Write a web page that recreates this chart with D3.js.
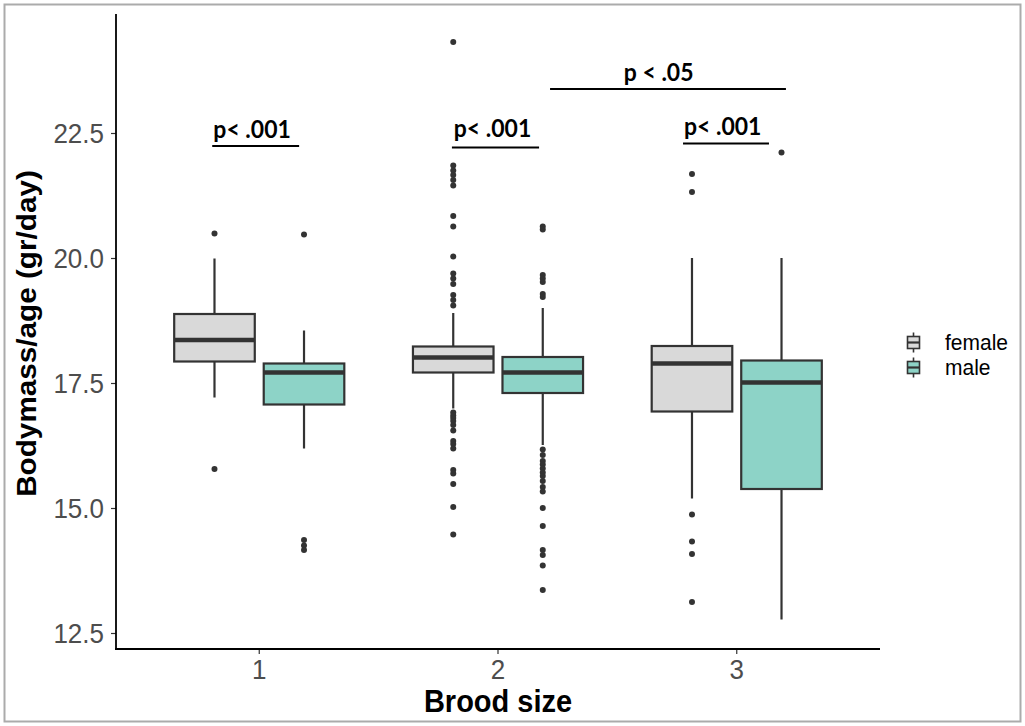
<!DOCTYPE html>
<html>
<head>
<meta charset="utf-8">
<script src="https://cdn.jsdelivr.net/npm/d3@7"></script>
<style>
  html, body { margin: 0; padding: 0; background: #ffffff; }
  svg { display: block; }
</style>
</head>
<body>
<svg id="chart" width="1025" height="726"></svg>
<script>
// Brood size categories and sexes
const broodSizes = ["1", "2", "3"];
const sexes = ["female", "male"];
const sexColors = ["#D9D9D9", "#8DD3C7"];

// Five-number summaries (lower whisker, Q1, median, Q3, upper whisker) per brood size
const femaleBoxes = [
  [17.21, 17.93, 18.36, 18.88, 19.99],
  [16.99, 17.71, 18.01, 18.23, 18.90],
  [15.19, 16.93, 17.89, 18.24, 20.00]
];
const maleBoxes = [
  [16.19, 17.07, 17.71, 17.89, 18.55],
  [16.26, 17.30, 17.71, 18.02, 19.00],
  [12.77, 15.38, 17.51, 17.95, 20.00]
];

// Outlying observations per brood size
const femaleOutliers = [
  [20.49, 15.78],
  [24.32, 21.85, 21.75, 21.66, 21.56, 21.45, 20.84, 20.63, 20.03, 19.69, 19.59, 19.48,
   19.26, 19.16, 19.05, 16.91, 16.85, 16.80, 16.74, 16.66, 16.55, 16.34, 16.28, 16.19,
   15.76, 15.69, 15.48, 15.02, 14.47],
  [21.68, 21.32, 14.87, 14.33, 14.08, 13.12]
];
const maleOutliers = [
  [20.47, 14.36, 14.25, 14.16],
  [20.63, 20.57, 19.66, 19.59, 19.52, 19.28, 19.22, 16.17, 16.06, 15.94, 15.87, 15.79,
   15.71, 15.64, 15.54, 15.42, 15.33, 15.00, 14.64, 14.16, 14.06, 13.85, 13.36],
  [22.11]
];

// Y axis ticks
const yTicks = [12.5, 15.0, 17.5, 20.0, 22.5];

// Significance annotations: labels, bracket span (in category units) and heights (data units)
const pLabels = ["p< .001", "p< .001", "p< .001", "p < .05"];
const pLabelX = [0.97, 1.977, 2.941, 2.673];
const pLabelY = [22.41, 22.43, 22.46, 23.54];
const pLineFrom = [0.803, 1.807, 2.775, 2.218];
const pLineTo = [1.167, 2.172, 3.135, 3.206];
const pLineY = [22.24, 22.21, 22.29, 23.38];

const svg = d3.select("#chart");
const stretch = 1.08;

const panel = { left: 116, right: 880, top: 14, bottom: 649 };

// Scales
const x = d3.scaleBand().domain(broodSizes)
  .range([panel.left, panel.right]).paddingInner(0).paddingOuter(0.1);
const dodge = x.step() * 0.75;
const xSex = d3.scaleBand().domain(sexes).range([0, dodge]).padding(0);
const boxW = xSex.bandwidth() * 0.9;
const catCenter = c => x(c) + x.bandwidth() / 2;
const xCont = d3.scaleLinear().domain([1, 2]).range([catCenter("1"), catCenter("2")]);
const y = d3.scaleLinear().domain([12.18, 24.88]).range([panel.bottom, panel.top]);

// Border around the figure
svg.append("rect")
  .attr("x", 4.5).attr("y", 4.5).attr("width", 1016).attr("height", 717)
  .attr("fill", "none").attr("stroke", "#ABABAB").attr("stroke-width", 2);

// Text helper with a slight vertical stretch
function stretchedText(g, tx, ty, rot) {
  return g.append("text")
    .attr("transform", `translate(${tx},${ty}) scale(1,${stretch})` + (rot ? ` rotate(${rot})` : ""));
}

// Boxplots
const ink = "#333333";
const lw = 2.2;
const groups = [
  { sex: "female", boxes: femaleBoxes, outliers: femaleOutliers, color: sexColors[0] },
  { sex: "male", boxes: maleBoxes, outliers: maleOutliers, color: sexColors[1] }
];
const plot = svg.append("g");
groups.forEach(gr => {
  broodSizes.forEach((b, i) => {
    const [lo, q1, med, q3, hi] = gr.boxes[i];
    const cx = x(b) + x.bandwidth() / 2 - dodge / 2 + xSex(gr.sex) + xSex.bandwidth() / 2;
    const g = plot.append("g");
    g.append("line").attr("x1", cx).attr("x2", cx).attr("y1", y(hi)).attr("y2", y(q3))
      .attr("stroke", ink).attr("stroke-width", lw);
    g.append("line").attr("x1", cx).attr("x2", cx).attr("y1", y(q1)).attr("y2", y(lo))
      .attr("stroke", ink).attr("stroke-width", lw);
    g.append("rect").attr("x", cx - boxW / 2).attr("y", y(q3))
      .attr("width", boxW).attr("height", y(q1) - y(q3))
      .attr("fill", gr.color).attr("stroke", ink).attr("stroke-width", lw);
    g.append("line").attr("x1", cx - boxW / 2).attr("x2", cx + boxW / 2)
      .attr("y1", y(med)).attr("y2", y(med))
      .attr("stroke", ink).attr("stroke-width", 4.6);
    g.selectAll("circle").data(gr.outliers[i]).join("circle")
      .attr("cx", cx).attr("cy", d => y(d)).attr("r", 3).attr("fill", ink);
  });
});

// Axes
const tickInk = "#333333";
const labelInk = "#4D4D4D";
const yAxis = svg.append("g").attr("transform", `translate(${panel.left},0)`)
  .call(d3.axisLeft(y).tickValues(yTicks).tickSize(5).tickPadding(7).tickFormat(d3.format(".1f")));
yAxis.select(".domain").remove();
yAxis.selectAll(".tick line").attr("stroke", tickInk).attr("stroke-width", 1.2);
yAxis.selectAll(".tick text").remove();
yAxis.selectAll(".tick").each(function (d) {
  stretchedText(d3.select(this), -12, 9.5)
    .attr("text-anchor", "end")
    .attr("font-family", "'Liberation Sans', Arial, sans-serif")
    .attr("font-size", 26).attr("fill", labelInk)
    .text(d3.format(".1f")(d));
});

const xAxis = svg.append("g").attr("transform", `translate(0,${panel.bottom})`)
  .call(d3.axisBottom(x).tickSize(5).tickPadding(6));
xAxis.select(".domain").remove();
xAxis.selectAll(".tick line").attr("stroke", tickInk).attr("stroke-width", 1.2);
xAxis.selectAll(".tick text").remove();
xAxis.selectAll(".tick").each(function (d) {
  stretchedText(d3.select(this), 0, 30)
    .attr("text-anchor", "middle")
    .attr("font-family", "'Liberation Sans', Arial, sans-serif")
    .attr("font-size", 26).attr("fill", labelInk)
    .text(d);
});

// Axis lines
svg.append("line").attr("x1", panel.left).attr("x2", panel.left)
  .attr("y1", panel.top).attr("y2", panel.bottom + 0.9)
  .attr("stroke", "#000").attr("stroke-width", 1.8);
svg.append("line").attr("x1", panel.left - 0.9).attr("x2", panel.right)
  .attr("y1", panel.bottom).attr("y2", panel.bottom)
  .attr("stroke", "#000").attr("stroke-width", 1.8);

// Axis titles
stretchedText(svg, (panel.left + panel.right) / 2, 712)
  .attr("text-anchor", "middle")
  .attr("font-family", "'Liberation Sans', Arial, sans-serif")
  .attr("font-weight", "bold").attr("font-size", 29).attr("fill", "#000")
  .text("Brood size");
stretchedText(svg, 36, (panel.top + panel.bottom) / 2 + 2, -90)
  .attr("text-anchor", "middle")
  .attr("font-family", "'Liberation Sans', Arial, sans-serif")
  .attr("font-weight", "bold").attr("font-size", 27.5).attr("fill", "#000")
  .text("Bodymass/age (gr/day)");

// Significance annotations
const ann = svg.append("g");
pLabels.forEach((lab, i) => {
  ann.append("line")
    .attr("x1", xCont(pLineFrom[i])).attr("x2", xCont(pLineTo[i]))
    .attr("y1", y(pLineY[i])).attr("y2", y(pLineY[i]))
    .attr("stroke", "#000").attr("stroke-width", 1.8);
  stretchedText(ann, xCont(pLabelX[i]), y(pLabelY[i]))
    .attr("text-anchor", "middle")
    .attr("font-family", "Lato, 'Open Sans', sans-serif")
    .attr("font-weight", "bold").attr("font-size", 23).attr("fill", "#000")
    .text(lab);
});

// Legend
const legend = svg.append("g").attr("transform", "translate(907,332)");
const keyH = 21;
const keyGap = 4;
sexes.forEach((s, i) => {
  const k = legend.append("g").attr("transform", `translate(0,${i * (keyH + keyGap)})`);
  k.append("line").attr("x1", 6.5).attr("x2", 6.5).attr("y1", 0.5).attr("y2", keyH - 0.5)
    .attr("stroke", ink).attr("stroke-width", 1.6);
  k.append("rect").attr("x", 0.5).attr("y", 4.5).attr("width", 12).attr("height", keyH - 9)
    .attr("fill", sexColors[i]).attr("stroke", ink).attr("stroke-width", 1.6);
  k.append("line").attr("x1", 0.5).attr("x2", 12.5)
    .attr("y1", keyH / 2).attr("y2", keyH / 2)
    .attr("stroke", ink).attr("stroke-width", 2.2);
  stretchedText(k, 38, keyH / 2 + 7.5)
    .attr("font-family", "'Liberation Sans', Arial, sans-serif")
    .attr("font-size", 21).attr("fill", "#000")
    .text(s);
});
</script>
</body>
</html>
